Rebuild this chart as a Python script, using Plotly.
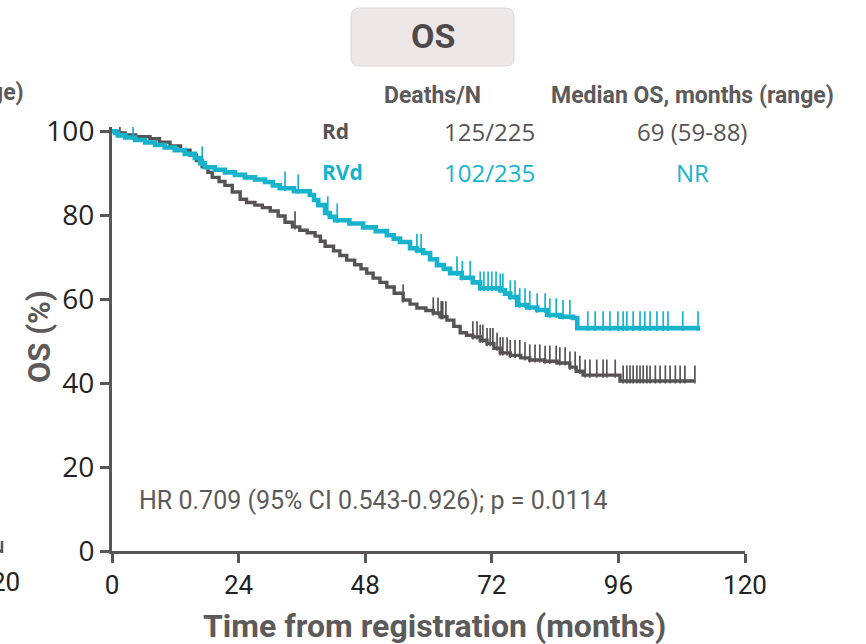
import numpy as np
import plotly.graph_objects as go

# ---------------- data ----------------
rd_time = [0, 1.0, 2.5, 4.5, 7.2, 9.0, 11.0, 13.0, 14.8, 16.0, 17.1, 18.2, 19.0, 20.3, 21.4,
           22.8, 24.3, 25.5, 27.1, 28.5, 30.0, 31.5, 32.8, 34.2, 35.6, 37.0, 38.5, 39.5, 40.4,
           42.0, 43.2, 44.5, 46.0, 47.2, 48.3, 49.5, 50.8, 52.1, 53.5, 55.2, 56.5, 57.8, 59.5,
           60.9, 62.2, 63.5, 64.8, 66.0, 67.2, 68.4, 69.8, 71.1, 72.4, 73.6, 75.5, 77.5, 79.2,
           82.0, 84.4, 86.8, 88.0, 89.3, 96.3, 110.5]
rd_surv = [100, 99.6, 99.1, 98.7, 98.2, 97.4, 96.5, 95.5, 94.3, 93.0, 91.5, 90.2, 89.0, 88.0, 87.1,
           85.5, 83.8, 83.0, 82.4, 81.8, 81.0, 79.8, 78.3, 77.2, 76.4, 75.8, 75.0, 73.8, 72.6,
           71.5, 70.4, 69.3, 68.2, 67.2, 66.2, 65.0, 64.0, 62.9, 61.4, 59.8, 58.8, 57.9, 57.3,
           56.7, 55.8, 55.0, 53.5, 52.0, 51.4, 51.0, 50.2, 49.4, 48.3, 47.2, 46.6, 46.0, 45.5,
           45.2, 44.8, 43.8, 42.8, 41.9, 40.5, 40.5]
rd_censor = [1.5, 34.7, 55.2, 60.9, 61.8, 62.4, 62.7, 63.3, 68.4, 69.2, 69.8, 70.3, 71.1, 71.7,
             72.2, 73.0, 73.6, 74.1, 74.9, 75.5, 76.4, 77.3, 78.3, 79.2, 80.2, 81.1, 82.1,
             83.0, 84.2, 84.9, 85.9, 86.8, 87.8, 88.7, 89.7, 90.6, 91.9, 93.1, 93.8, 95.4,
             96.9, 97.6, 98.2, 98.8, 99.5, 100.1, 100.7, 101.4, 102.0, 103.0, 103.9, 104.9,
             105.8, 106.8, 107.7, 108.6, 110.5]

rvd_time = [0, 0.6, 1.1, 2.5, 4.4, 6.3, 8.2, 10.0, 11.9, 13.8, 15.7, 16.7, 17.6, 19.5, 21.4,
            23.3, 25.2, 27.1, 29.0, 30.5, 31.8, 34.5, 37.5, 38.3, 39.1, 40.4, 41.3, 42.3, 45.0,
            47.6, 50.0, 52.1, 53.4, 54.6, 56.5, 57.8, 59.0, 60.3, 61.6, 62.9, 64.1, 66.3, 68.4,
            69.8, 73.6, 74.5, 75.5, 76.8, 78.7, 80.6, 82.5, 85.0, 87.4, 88.2, 111.5]
rvd_surv = [100, 99.6, 99.0, 98.5, 97.9, 97.3, 96.7, 96.1, 95.5, 94.6, 93.6, 92.4, 91.4, 90.8, 90.2,
            89.6, 89.0, 88.5, 87.9, 87.1, 86.4, 85.7, 84.8, 83.6, 82.4, 80.5, 79.6, 78.8, 78.0,
            77.1, 76.2, 75.2, 74.4, 73.6, 72.1, 71.6, 71.0, 69.5, 68.1, 67.2, 66.2, 65.1, 64.0,
            62.6, 62.1, 61.3, 60.5, 58.6, 58.0, 57.4, 56.2, 55.8, 55.5, 53.1, 53.1]
rvd_censor = [4.0, 17.1, 32.8, 35.3, 40.9, 42.7, 57.8, 58.6, 65.4, 66.4, 67.9, 69.8, 70.5, 71.3,
              72.0, 72.8, 73.6, 74.1, 75.5, 76.4, 77.3, 78.3, 79.2, 80.6, 82.1, 83.0, 84.2,
              85.5, 86.8, 90.2, 91.6, 93.1, 94.4, 95.9, 96.9, 97.6, 98.8, 100.1, 101.0, 102.0,
              103.3, 104.5, 105.4, 108.2, 111.1]

x_ticks = [0, 24, 48, 72, 96, 120]
y_ticks = [0, 20, 40, 60, 80, 100]

groups = ["Rd", "RVd"]
deaths_n = ["125/225", "102/235"]
median_os = ["69 (59-88)", "NR"]
hr_text = "HR 0.709 (95% CI 0.543-0.926); p = 0.0114"

GRAY = "#575354"
CYAN = "#17b3cd"
TXT = "#5c5a5a"
NARROW = "Liberation Sans Narrow, Arial Narrow, Roboto, sans-serif"
F = "Open Sans, sans-serif"

W, H = 866, 644
OFF = 0  # body margin removed below
L, R, T, B = 112, 121, 127, 93


def px(sx):
    return (sx - OFF - L) / (W - L - R)


def py(sy):
    return (H - B - (sy - OFF)) / (H - T - B)


def step_at(times, surv, t):
    idx = np.searchsorted(np.array(times), np.array(t), side="right") - 1
    return np.array(surv)[idx]


fig = go.Figure()
for times, surv, cens, col, lw, ms in [
    (rd_time, rd_surv, rd_censor, GRAY, 3.4, 13),
    (rvd_time, rvd_surv, rvd_censor, CYAN, 4.6, 14),
]:
    fig.add_trace(go.Scatter(x=times, y=surv, mode="lines", line=dict(color=col, width=lw, shape="hv"),
                             hoverinfo="skip", showlegend=False))
    cy = step_at(times, surv, cens) + ms / 2 / 4.2
    fig.add_trace(go.Scatter(x=cens, y=cy, mode="markers",
                             marker=dict(symbol="line-ns", size=ms, line=dict(color=col, width=1.7)),
                             hoverinfo="skip", showlegend=False))

axis_common = dict(showline=True, linecolor="#5a5657", linewidth=3, ticks="outside",
                   ticklen=9, tickwidth=2.5, tickcolor="#5a5657", showgrid=False, zeroline=False)

fig.update_xaxes(range=[0, 120], tickvals=x_ticks, ticktext=[str(v) for v in x_ticks],
                 tickfont=dict(family=NARROW, size=26, color="#222"), **axis_common)
fig.update_yaxes(range=[0, 101], tickvals=y_ticks, ticktext=[str(v) for v in y_ticks],
                 tickfont=dict(family=F, size=28, color="#222"), **axis_common)


def text(sx, sy, s, size, color, family=NARROW, xa="center", ya="middle", angle=0):
    return dict(x=px(sx), y=py(sy), xref="paper", yref="paper", text=s, textangle=angle,
                xanchor=xa, yanchor=ya, showarrow=False,
                font=dict(family=family, size=size, color=color))


ann = []
ann.append(text(39, 337, "<b>OS (%)</b>", 31, TXT, angle=-90))
ann.append(text(434, 626, "<b>Time from registration (months)</b>", 32, TXT))
ann.append(text(433, 36, "<b>OS</b>", 34, "#4e4a4b"))
ann.append(text(432, 95, "<b>Deaths/N</b>", 23, TXT))
ann.append(text(692, 95, "<b>Median OS, months (range)</b>", 23, TXT))
row_y = [131, 172]
cols = [GRAY, CYAN]
for g, d, m, yy, c in zip(groups, deaths_n, median_os, row_y, cols):
    ann.append(text(320, yy, "<b>" + g + "</b>", 21, c, family=F, xa="left"))
    ann.append(text(490, yy, d, 24, c, family=F))
    ann.append(text(692, yy, m, 24, c, family=F))
ann.append(text(137, 500, hr_text, 25, TXT, xa="left"))
# fragments of the neighbouring panel
ann.append(text(26, 92, "<b>ge)</b>", 23, TXT, xa="right"))
ann.append(text(22, 582, "20", 26, "#222", xa="right"))


def rounded_rect(x0, y0, x1, y1, r):
    X = lambda v: px(v)
    Y = lambda v: py(v)
    return (f"M {X(x0 + r)} {Y(y0)} L {X(x1 - r)} {Y(y0)} Q {X(x1)} {Y(y0)} {X(x1)} {Y(y0 + r)} "
            f"L {X(x1)} {Y(y1 - r)} Q {X(x1)} {Y(y1)} {X(x1 - r)} {Y(y1)} "
            f"L {X(x0 + r)} {Y(y1)} Q {X(x0)} {Y(y1)} {X(x0)} {Y(y1 - r)} "
            f"L {X(x0)} {Y(y0 + r)} Q {X(x0)} {Y(y0)} {X(x0 + r)} {Y(y0)} Z")


shapes = [
    dict(type="path", xref="paper", yref="paper", path=rounded_rect(351, 8, 514, 66, 9),
         fillcolor="#ede7e7", line=dict(color="#dcd6d6", width=1), layer="below"),
    dict(type="line", xref="paper", yref="paper", x0=px(2), x1=px(2), y0=py(553), y1=py(541),
         line=dict(color="#5a5657", width=2.5)),
    dict(type="line", xref="paper", yref="paper", x0=px(0), x1=px(3), y0=py(551), y1=py(551),
         line=dict(color="#5a5657", width=3)),
]

fig.update_layout(width=W, height=H, margin=dict(l=L, r=R, t=T, b=B),
                  plot_bgcolor="rgba(0,0,0,0)", paper_bgcolor="white",
                  annotations=ann, shapes=shapes, showlegend=False)

fig.write_html("out.html", config={"displayModeBar": False},
               post_script="document.body.style.margin='0px';")
